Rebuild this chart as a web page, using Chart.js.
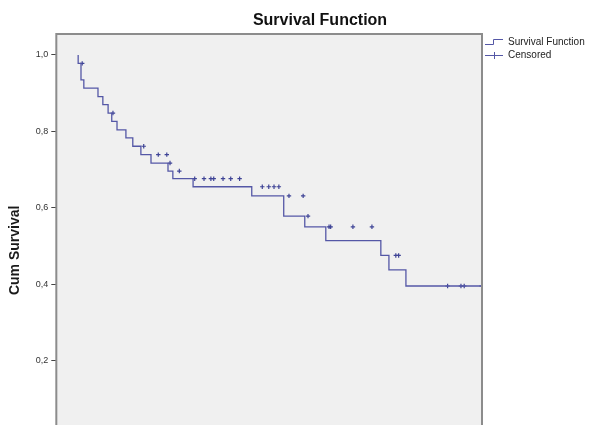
<!DOCTYPE html>
<html>
<head>
<meta charset="utf-8">
<script src="https://cdn.jsdelivr.net/npm/chart.js@4.4.1/dist/chart.umd.min.js"></script>
<style>
  html, body { margin: 0; padding: 0; background: #fff; overflow: hidden; width: 593px; height: 425px; }
  #wrap { width: 593px; height: 475px; }
</style>
</head>
<body>
<div id="wrap"><canvas id="km" width="593" height="475"></canvas></div>
<script>
// step points of the Kaplan-Meier curve (time, cumulative survival after the event)
const eventTimes = [0, 0.7, 1.4, 4.9, 6.1, 7.4, 8.3, 9.6, 11.8, 13.5, 15.5, 18.0, 22.2, 23.4, 28.4, 42.9, 50.8, 56.0, 61.2, 74.8, 76.8, 81.0, 87.1, 99.7];
const survival   = [1.0, 0.978, 0.935, 0.913, 0.891, 0.870, 0.848, 0.826, 0.804, 0.783, 0.761, 0.739, 0.717, 0.696, 0.676, 0.655, 0.631, 0.578, 0.550, 0.514, 0.475, 0.437, 0.395, 0.395];

// censored cases (time only, they sit on the curve)
const censorTimes = [1.0, 8.6, 16.2, 19.8, 21.9, 22.7, 25.0,
  28.8, 31.1, 32.8, 33.5, 35.8, 37.7, 39.9,
  45.5, 47.1, 48.4, 49.6, 52.1, 55.6, 56.8,
  62.0, 62.4, 67.9, 72.6, 78.5, 79.2,
  91.3, 94.6, 95.4, 99.7];

const yTicks = [0.2, 0.4, 0.6, 0.8, 1.0];
const seriesNames = ['Survival Function', 'Censored'];

const lineColor = '#5457a6';

function survivalAt(t) {
    let s = survival[0];
    for (let i = 0; i < eventTimes.length; i++) {
        if (eventTimes[i] <= t) s = survival[i];
    }
    return s;
}

// small legend icons like the SPSS ones
function makeIcon(kind) {
    let c = document.createElement('canvas');
    c.width = 18;
    c.height = 10;
    let g = c.getContext('2d');
    g.strokeStyle = lineColor;
    g.lineWidth = 1;
    g.beginPath();
    if (kind === 'step') {
        g.moveTo(0, 7.5); g.lineTo(8.5, 7.5); g.lineTo(8.5, 2.5); g.lineTo(18, 2.5);
    } else {
        g.moveTo(0, 5.5); g.lineTo(18, 5.5);
        g.moveTo(9.5, 2); g.lineTo(9.5, 9);
        g.moveTo(7, 5.5); g.lineTo(12, 5.5);
    }
    g.stroke();
    return c;
}
const icons = [makeIcon('step'), makeIcon('cross')];

const plotFrame = {
    id: 'plotFrame',
    beforeDatasetsDraw(chart) {
        const {ctx, chartArea: a} = chart;
        ctx.save();
        ctx.fillStyle = '#f0f0f0';
        ctx.fillRect(a.left, a.top, a.right - a.left, a.bottom - a.top);
        ctx.restore();
    },
    afterDatasetsDraw(chart) {
        const {ctx, chartArea: a} = chart;
        ctx.save();
        ctx.strokeStyle = '#8c8c8c';
        ctx.lineWidth = 2;
        ctx.strokeRect(a.left, a.top, a.right - a.left, a.bottom - a.top);
        ctx.restore();
    },
    afterDraw(chart) {
        const ctx = chart.ctx;
        ctx.save();
        ctx.font = 'bold 16px "Liberation Sans", Arial, sans-serif';
        ctx.fillStyle = '#111';
        ctx.textAlign = 'center';
        ctx.textBaseline = 'middle';
        ctx.fillText('Survival Function', 320, 21);
        ctx.restore();
    }
};

let km_param = {
    type: 'scatter',
    data: {
        datasets: [{
            label: seriesNames[0],
            data: eventTimes.map((t, i) => ({x: t, y: survival[i]})),
            showLine: true,
            stepped: 'after',
            borderColor: lineColor,
            borderWidth: 1.3,
            pointRadius: 0,
            fill: false,
        }, {
            label: seriesNames[1],
            data: censorTimes.map(t => ({x: t, y: survivalAt(t)})),
            showLine: false,
            pointStyle: 'cross',
            pointRadius: 2.2,
            borderColor: '#3f4496',
            borderWidth: 1.2,
        }]
    },
    options: {
        responsive: false,
        animation: false,
        layout: { padding: { top: 34, left: 1, right: 0, bottom: 5 } },
        scales: {
            x: { type: 'linear', min: -5.4, max: 99.8, display: false },
            y: {
                min: -0.078,
                max: 1.055,
                afterBuildTicks: scale => { scale.ticks = yTicks.map(v => ({value: v})); },
                ticks: {
                    callback: v => v.toFixed(1).replace('.', ','),
                    font: { family: '"Liberation Sans", Arial, sans-serif', size: 9 },
                    color: '#333',
                    padding: 3,
                },
                grid: { drawOnChartArea: false, drawTicks: true, tickLength: 5, color: '#444' },
                border: { display: false },
                title: {
                    display: true,
                    text: 'Cum Survival',
                    font: { family: '"Liberation Sans", Arial, sans-serif', size: 14, weight: 'bold' },
                    color: '#1a1a1a',
                    padding: { top: 6, bottom: 9 },
                }
            }
        },
        plugins: {
            title: { display: false },
            tooltip: { enabled: false },
            legend: {
                position: 'right',
                align: 'start',
                maxWidth: 111,
                labels: {
                    usePointStyle: true,
                    pointStyleWidth: 18,
                    padding: 3,
                    color: '#222',
                    font: { family: '"Liberation Sans", Arial, sans-serif', size: 10 },
                    generateLabels: chart => chart.data.datasets.map((ds, i) => ({
                        text: ds.label,
                        pointStyle: icons[i],
                        datasetIndex: i,
                        hidden: false,
                        lineWidth: 0,
                        fontColor: '#222',
                    }))
                }
            }
        }
    },
    plugins: [plotFrame]
};

let km_chart = new Chart(document.getElementById('km'), km_param);
</script>
</body>
</html>
